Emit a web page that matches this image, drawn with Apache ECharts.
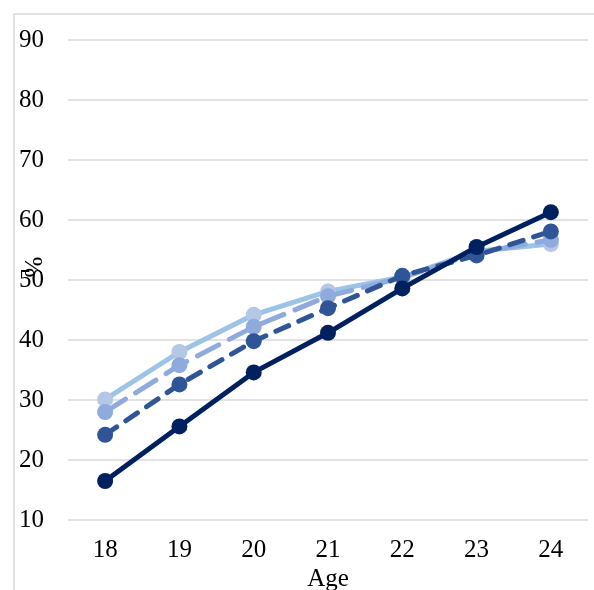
<!DOCTYPE html>
<html>
<head>
<meta charset="utf-8">
<script src="https://cdn.jsdelivr.net/npm/echarts@6/dist/echarts.min.js"></script>
<style>html,body{margin:0;padding:0;background:#fff;}#c{width:594px;height:590px;}</style>
</head>
<body>
<div id="c"></div>
<script>
var ages = ['18', '19', '20', '21', '22', '23', '24'];
var seriesLight = [30.1, 38.0, 44.2, 48.1, 50.5, 54.8, 56.0];
var seriesMedium = [28.0, 35.8, 42.2, 47.3, 50.4, 54.5, 56.7];
var seriesDashed = [24.2, 32.6, 39.8, 45.3, 50.7, 54.1, 58.1];
var seriesNavy = [16.5, 25.6, 34.6, 41.2, 48.6, 55.5, 61.3];
var yMin = 10, yMax = 90, yStep = 10;
var yName = '%';
var xName = 'Age';

var font = '"Liberation Serif", "Times New Roman", serif';
var chart = echarts.init(document.getElementById('c'), null, {renderer: 'canvas'});
function mk(name, data, lineColor, markerColor, dash, z) {
  return {
    name: name, type: 'line', data: data, z: z,
    symbol: 'circle', symbolSize: 16,
    lineStyle: {color: lineColor, width: 5, type: dash ? dash : 'solid', cap: 'round'},
    itemStyle: {color: markerColor, borderColor: markerColor, borderWidth: 0},
    emphasis: {disabled: true}
  };
}
chart.setOption({
  animation: false,
  backgroundColor: '#fff',
  graphic: [{
    type: 'rect', shape: {x: 14, y: 14, width: 700, height: 700},
    style: {fill: 'none', stroke: '#d9d9d9', lineWidth: 1.5}, silent: true, z: -10
  }, {
    type: 'text', x: 35, y: 267, rotation: Math.PI / 2,
    style: {text: yName, font: '25px ' + font, fill: '#000', align: 'center', verticalAlign: 'middle'},
    silent: true, z: 10
  }],
  grid: {left: 68, right: 6, top: 40, bottom: 70, containLabel: false, outerBoundsMode: 'none'},
  xAxis: {
    type: 'category', data: ages, boundaryGap: true,
    name: xName, nameLocation: 'middle', nameGap: 47, nameMoveOverlap: false,
    nameTextStyle: {fontFamily: font, fontSize: 25, color: '#000'},
    axisLine: {show: false}, axisTick: {show: false},
    axisLabel: {fontFamily: font, fontSize: 25, color: '#000', margin: 18}
  },
  yAxis: {
    type: 'value', min: yMin, max: yMax, interval: yStep,
    axisLine: {show: false}, axisTick: {show: false},
    axisLabel: {fontFamily: font, fontSize: 25, color: '#000', margin: 24},
    splitLine: {lineStyle: {color: '#d9d9d9', width: 1.5}}
  },
  series: [
    mk('A', seriesLight, '#9DC3E6', '#B4C7E7', null, 2),
    mk('B', seriesMedium, '#8FAADC', '#8FAADC', [24, 12], 3),
    mk('C', seriesDashed, '#2F5597', '#2F5597', [14, 11], 4),
    mk('D', seriesNavy, '#002060', '#002060', null, 5)
  ]
});
</script>
</body>
</html>
